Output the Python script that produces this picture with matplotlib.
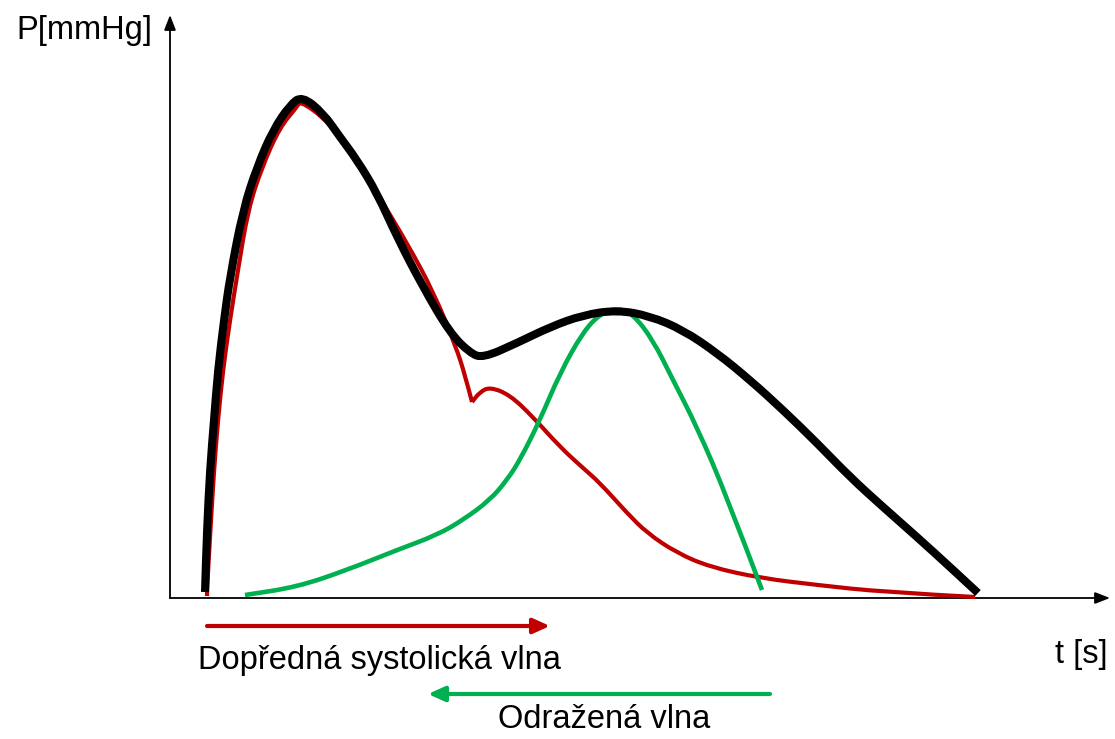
import matplotlib.pyplot as plt
from matplotlib.path import Path
from matplotlib.patches import PathPatch

plt.rcParams['font.family'] = ['Liberation Sans', 'DejaVu Sans']

# cas t a tlak P v jednotkach obrazku (pocatek = pruseck os)
black_t = [35, 37, 40, 44, 48, 54, 60, 73, 87, 103, 120, 132, 153, 170, 187, 207,
           227, 253, 280, 300, 313, 347, 380, 413, 447, 480, 513, 547, 580, 613,
           647, 680, 713, 747, 780, 808]
black_p = [6, 68, 128, 178, 228, 278, 321, 388, 431, 468, 493, 502, 485, 461, 438, 405,
           361, 311, 265, 245, 240, 255, 271, 283, 288, 282, 268, 245, 218, 188,
           155, 121, 91, 61, 31, 5]

# dopredna vlna - do zlomu a po zlomu
red_rise_t = [37, 37, 40, 44, 48, 53, 60, 68, 78, 92, 110, 127, 130, 153, 173, 192,
              211, 237, 264, 286, 295, 302]
red_rise_p = [2, 8, 61, 128, 178, 228, 278, 328, 388, 431, 471, 491, 497, 481, 458,
              431, 398, 355, 305, 251, 223, 196]
red_tail_t = [302, 310, 320, 340, 363, 390, 413, 430, 457, 477, 507, 540, 590, 647,
              713, 805]
red_tail_p = [196, 206, 211, 203, 181, 151, 130, 115, 85, 65, 45, 31, 20, 13, 6, 1]

green_t = [75, 127, 177, 227, 267, 293, 320, 337, 350, 370, 390, 413, 430, 447, 463,
           483, 503, 527, 557, 592]
green_p = [3, 11, 28, 48, 63, 78, 98, 118, 138, 178, 225, 266, 284, 290, 284,
           258, 218, 171, 101, 8]

RED = "#C00000"
GREEN = "#00B050"


def smooth(ts, ps):
    # kvadraticke Bezierovy useky pres stredy mezi body
    pts = list(zip(ts, ps))
    verts = [pts[0]]
    codes = [Path.MOVETO]
    if len(pts) == 2:
        return Path(pts, [Path.MOVETO, Path.LINETO])
    verts.append(((pts[0][0] + pts[1][0]) / 2, (pts[0][1] + pts[1][1]) / 2))
    codes.append(Path.LINETO)
    for i in range(1, len(pts) - 1):
        end = pts[i + 1] if i == len(pts) - 2 else (
            (pts[i][0] + pts[i + 1][0]) / 2, (pts[i][1] + pts[i + 1][1]) / 2)
        verts += [pts[i], end]
        codes += [Path.CURVE3, Path.CURVE3]
    return Path(verts, codes)


def curve(ax, ts, ps, color, lw, z):
    ax.add_patch(PathPatch(smooth(ts, ps), fill=False, edgecolor=color, lw=lw,
                           joinstyle="round", capstyle="butt", zorder=z))


fig = plt.figure(figsize=(11.15, 7.39), dpi=100)
ax = fig.add_axes([0, 0, 1, 1])
ax.set_xlim(-170, 945)
ax.set_ylim(-141, 598)
ax.axis("off")

curve(ax, red_rise_t, red_rise_p, RED, 3.0, 3)
curve(ax, red_tail_t, red_tail_p, RED, 3.0, 3)
curve(ax, green_t, green_p, GREEN, 3.3, 4)
curve(ax, black_t, black_p, "black", 5.8, 5)

# osy se sipkami
axis_arrow = dict(arrowstyle="-|>,head_length=0.9,head_width=0.35",
                  color="black", lw=1.3, shrinkA=0, shrinkB=0)
ax.annotate("", xy=(0, 583), xytext=(0, 0), arrowprops=axis_arrow, zorder=2)
ax.annotate("", xy=(940, 0), xytext=(0, 0), arrowprops=axis_arrow, zorder=2)

# sipky vln
wave_arrow = dict(arrowstyle="-|>,head_length=1.0,head_width=0.45",
                  lw=3.0, shrinkA=0, shrinkB=0)
ax.annotate("", xy=(380, -28), xytext=(37, -28),
            arrowprops=dict(wave_arrow, color=RED))
ax.annotate("", xy=(258, -96), xytext=(600, -96),
            arrowprops=dict(wave_arrow, color=GREEN))

fs = 23.5
ax.text(-18, 568, "P[mmHg]", fontsize=fs, ha="right", va="center")
ax.text(885, -57, "t [s]", fontsize=fs, ha="left", va="center")
ax.text(28, -62, "Dopředná systolická vlna", fontsize=fs, ha="left", va="center")
ax.text(328, -122, "Odražená vlna", fontsize=fs, ha="left", va="center")

fig.savefig("out.png", dpi=100)
